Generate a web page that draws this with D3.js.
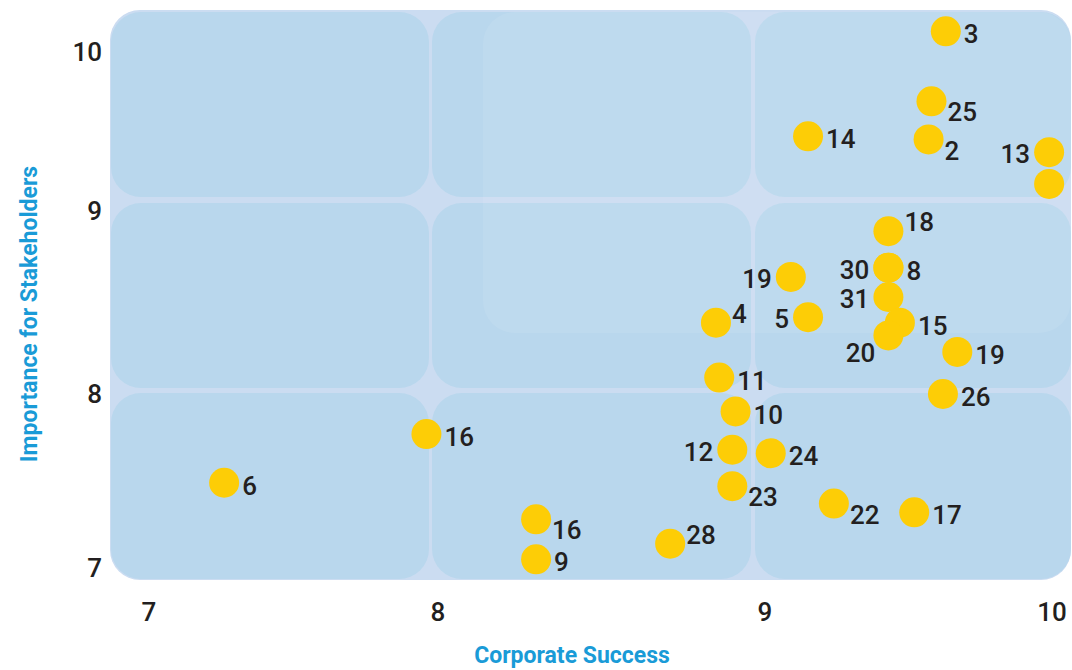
<!DOCTYPE html>
<html>
<head>
<meta charset="utf-8">
<script src="https://cdn.jsdelivr.net/npm/d3@7"></script>
<style>
  html, body { margin: 0; padding: 0; background: #ffffff; }
  svg { display: block; }
</style>
</head>
<body>
<svg id="chart" width="1072" height="670"></svg>
<script>
// Topic numbers, corporate-success scores and stakeholder-importance scores
const topics   = ["3", "25", "14", "2", "13", "", "18", "30", "8", "19", "31", "4", "5", "15", "20", "19",
                  "11", "26", "10", "12", "24", "23", "22", "17", "16", "28", "9", "16", "6"];
const success  = [9.63, 9.58, 9.15, 9.57, 9.99, 9.99, 9.43, 9.43, 9.43, 9.09, 9.43, 8.85, 9.15, 9.47, 9.43, 9.67,
                  8.86, 9.62, 8.91, 8.90, 9.02, 8.90, 9.24, 9.52, 8.30, 8.71, 8.30, 7.96, 7.26];
const importance = [10.13, 9.69, 9.47, 9.45, 9.37, 9.17, 8.89, 8.69, 8.69, 8.64, 8.53, 8.39, 8.42, 8.39, 8.32, 8.23,
                  8.09, 8.00, 7.90, 7.68, 7.66, 7.47, 7.37, 7.32, 7.28, 7.14, 7.05, 7.77, 7.49];
// Which side of the dot each number sits on
const labelSide = ["e", "se", "e", "se", "w", "", "ne", "w", "e", "w", "w", "ne", "w", "e", "sw", "e",
                  "e", "e", "e", "w", "e", "se", "se", "e", "se", "ne", "e", "e", "e"];

const xTicks = [7, 8, 9, 10];
const yTicks = [7, 8, 9, 10];
const xTitle = "Corporate Success";
const yTitle = "Importance for Stakeholders";

const svg = d3.select("#chart");

// Piecewise scales: each unit step has its own span on the grid
const x = d3.scaleLinear().domain(xTicks).range([149, 438, 765, 1052]);
const y = d3.scaleLinear().domain(yTicks).range([568, 394, 211, 52]);

// ---- background panel with 3 x 3 rounded cells ----
const panel = { x0: 110, x1: 1071, y0: 10, y1: 580 };
svg.append("rect")
  .attr("x", panel.x0).attr("y", panel.y0)
  .attr("width", panel.x1 - panel.x0).attr("height", panel.y1 - panel.y0)
  .attr("rx", 30).attr("fill", "#cbdcf1");

const cols = [[111, 429], [432, 751], [755, 1071]];
const rows = [[12, 197], [203, 388], [393, 579]];
const cells = [];
rows.forEach(r => cols.forEach(c => cells.push({ c, r })));
svg.append("g").selectAll("rect").data(cells).join("rect")
  .attr("x", d => d.c[0]).attr("y", d => d.r[0])
  .attr("width", d => d.c[1] - d.c[0]).attr("height", d => d.r[1] - d.r[0])
  .attr("rx", 30).attr("fill", "#b9d7ed");

// soft highlight over the upper-right area
svg.append("rect")
  .attr("x", 483).attr("y", 12).attr("width", 1071 - 483).attr("height", 333 - 12)
  .attr("rx", 32).attr("fill", "#ffffff").attr("fill-opacity", 0.08);

// ---- tick labels ----
const font = "Roboto, 'Noto Sans', sans-serif";
svg.append("g").selectAll("text").data(xTicks).join("text")
  .attr("x", d => x(d)).attr("y", 612).attr("dy", "0.35em")
  .attr("text-anchor", "middle")
  .attr("font-family", font).attr("font-weight", 500).attr("font-size", 26)
  .attr("fill", "#231f20")
  .text(d => d);

svg.append("g").selectAll("text").data(yTicks).join("text")
  .attr("x", 102).attr("y", d => y(d)).attr("dy", "0.35em")
  .attr("text-anchor", "end")
  .attr("font-family", font).attr("font-weight", 500).attr("font-size", 26)
  .attr("fill", "#231f20")
  .text(d => d);

// ---- axis titles ----
svg.append("text")
  .attr("x", 572).attr("y", 655).attr("dy", "0.35em")
  .attr("text-anchor", "middle")
  .attr("font-family", font).attr("font-weight", 700).attr("font-size", 23)
  .attr("fill", "#1a9bd7")
  .text(xTitle);

svg.append("text")
  .attr("transform", "translate(29,314) rotate(-90)")
  .attr("dy", "0.35em")
  .attr("text-anchor", "middle")
  .attr("font-family", font).attr("font-weight", 700).attr("font-size", 23)
  .attr("fill", "#1a9bd7")
  .text(yTitle);

// ---- points ----
const pts = topics.map((t, i) => ({ t, sx: success[i], iy: importance[i], side: labelSide[i] }));

svg.append("g").selectAll("circle").data(pts).join("circle")
  .attr("cx", d => x(d.sx)).attr("cy", d => y(d.iy))
  .attr("r", 15)
  .attr("fill", "#fdcd06");

const offsets = {
  e:  { dx: 18,  dy: 3,  anchor: "start" },
  se: { dx: 16,  dy: 11, anchor: "start" },
  ne: { dx: 16,  dy: -9, anchor: "start" },
  w:  { dx: -19, dy: 2,  anchor: "end" },
  sw: { dx: -13, dy: 17, anchor: "end" }
};

svg.append("g").selectAll("text").data(pts.filter(d => d.t !== "")).join("text")
  .attr("x", d => x(d.sx) + offsets[d.side].dx)
  .attr("y", d => y(d.iy) + offsets[d.side].dy)
  .attr("dy", "0.35em")
  .attr("text-anchor", d => offsets[d.side].anchor)
  .attr("font-family", font).attr("font-weight", 500).attr("font-size", 26)
  .attr("fill", "#231f20")
  .text(d => d.t);
</script>
</body>
</html>
